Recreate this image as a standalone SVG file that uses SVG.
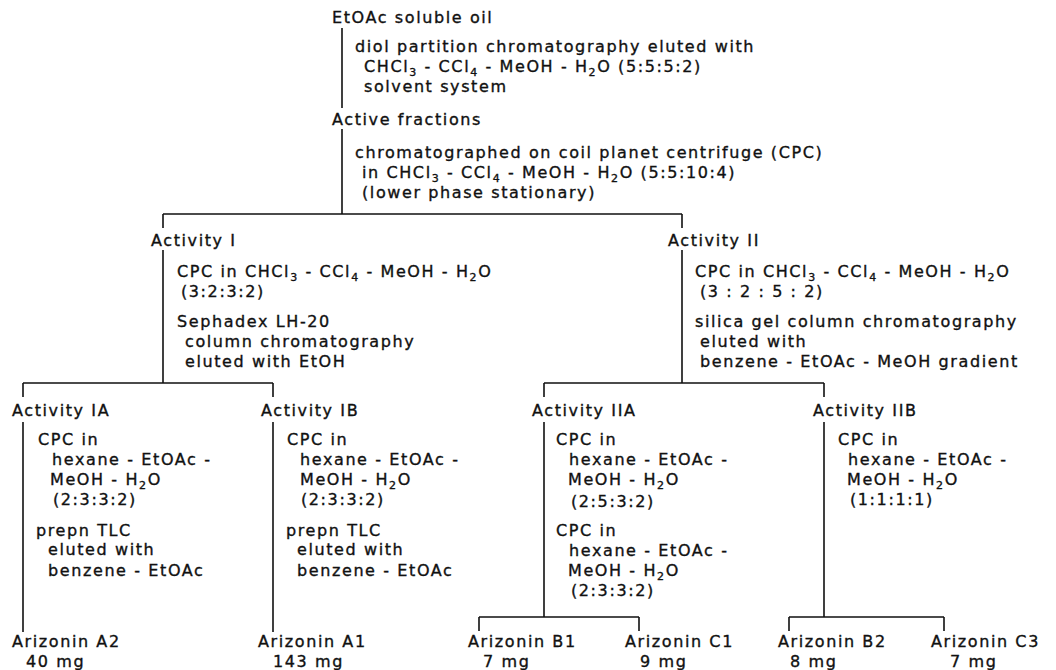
<svg xmlns="http://www.w3.org/2000/svg" width="1056" height="670" viewBox="0 0 1056 670">
<style>
text { font-family: "DejaVu Sans", "Liberation Sans", sans-serif; font-size: 16px; letter-spacing: 1.6px; fill: #111; stroke: #111; stroke-width: 0.35px; }
.sub { font-size: 11px; }
.c { fill: none; stroke: #111; stroke-width: 1.6; }
</style>
<rect width="1056" height="670" fill="#fff"/>
<g id="connectors" class="c">
<path d="M342 28 V108 M342 129 V214"/>
<path d="M163 214 H682 M163 214 V228 M682 214 V228"/>
<path d="M163 250 V383 M23 383 H273 M23 383 V397 M273 383 V397"/>
<path d="M682 250 V383 M544 383 H824 M544 383 V397 M824 383 V397"/>
<path d="M23 422 V632 M273 422 V632"/>
<path d="M544 422 V617 M479 617 H639 M479 617 V631 M639 617 V631"/>
<path d="M824 422 V617 M789 617 H944 M789 617 V631 M944 617 V631"/>
</g>
<g id="n-etoac"><text x="332" y="23">EtOAc soluble oil</text></g>
<g id="step-diol">
<text x="355" y="52">diol partition chromatography eluted with</text>
<text x="364" y="72">CHCl<tspan class="sub" dy="4">3</tspan><tspan dy="-4"> - CCl</tspan><tspan class="sub" dy="4">4</tspan><tspan dy="-4"> - MeOH - H</tspan><tspan class="sub" dy="4">2</tspan><tspan dy="-4">O (5:5:5:2)</tspan></text>
<text x="364" y="92">solvent system</text>
</g>
<g id="n-active"><text x="332" y="125">Active fractions</text></g>
<g id="step-cpc">
<text x="355" y="158">chromatographed on coil planet centrifuge (CPC)</text>
<text x="362" y="178">in CHCl<tspan class="sub" dy="4">3</tspan><tspan dy="-4"> - CCl</tspan><tspan class="sub" dy="4">4</tspan><tspan dy="-4"> - MeOH - H</tspan><tspan class="sub" dy="4">2</tspan><tspan dy="-4">O (5:5:10:4)</tspan></text>
<text x="362" y="198">(lower phase stationary)</text>
</g>
<g id="n-act1">
<text x="151" y="246">Activity I</text>
<text x="177" y="277">CPC in CHCl<tspan class="sub" dy="4">3</tspan><tspan dy="-4"> - CCl</tspan><tspan class="sub" dy="4">4</tspan><tspan dy="-4"> - MeOH - H</tspan><tspan class="sub" dy="4">2</tspan><tspan dy="-4">O</tspan></text>
<text x="181" y="297">(3:2:3:2)</text>
<text x="177" y="327">Sephadex LH-20</text>
<text x="185" y="347">column chromatography</text>
<text x="185" y="367">eluted with EtOH</text>
</g>
<g id="n-act2">
<text x="668" y="246">Activity II</text>
<text x="695" y="277">CPC in CHCl<tspan class="sub" dy="4">3</tspan><tspan dy="-4"> - CCl</tspan><tspan class="sub" dy="4">4</tspan><tspan dy="-4"> - MeOH - H</tspan><tspan class="sub" dy="4">2</tspan><tspan dy="-4">O</tspan></text>
<text x="700" y="297">(3 : 2 : 5 : 2)</text>
<text x="695" y="327">silica gel column chromatography</text>
<text x="700" y="347">eluted with</text>
<text x="700" y="367">benzene - EtOAc - MeOH gradient</text>
</g>
<g id="n-act1a">
<text x="12" y="416">Activity IA</text>
<text x="38" y="445">CPC in</text>
<text x="52" y="465">hexane - EtOAc -</text>
<text x="50" y="485">MeOH - H<tspan class="sub" dy="4">2</tspan><tspan dy="-4">O</tspan></text>
<text x="53" y="505">(2:3:3:2)</text>
<text x="36" y="536">prepn TLC</text>
<text x="48" y="555">eluted with</text>
<text x="48" y="576">benzene - EtOAc</text>
</g>
<g id="n-act1b">
<text x="261" y="416">Activity IB</text>
<text x="287" y="445">CPC in</text>
<text x="300" y="465">hexane - EtOAc -</text>
<text x="300" y="485">MeOH - H<tspan class="sub" dy="4">2</tspan><tspan dy="-4">O</tspan></text>
<text x="301" y="505">(2:3:3:2)</text>
<text x="286" y="536">prepn TLC</text>
<text x="297" y="555">eluted with</text>
<text x="297" y="576">benzene - EtOAc</text>
</g>
<g id="n-act2a">
<text x="532" y="416">Activity IIA</text>
<text x="556" y="445">CPC in</text>
<text x="569" y="465">hexane - EtOAc -</text>
<text x="568" y="485">MeOH - H<tspan class="sub" dy="4">2</tspan><tspan dy="-4">O</tspan></text>
<text x="571" y="507">(2:5:3:2)</text>
<text x="556" y="536">CPC in</text>
<text x="569" y="556">hexane - EtOAc -</text>
<text x="568" y="576">MeOH - H<tspan class="sub" dy="4">2</tspan><tspan dy="-4">O</tspan></text>
<text x="571" y="596">(2:3:3:2)</text>
</g>
<g id="n-act2b">
<text x="813" y="416">Activity IIB</text>
<text x="838" y="445">CPC in</text>
<text x="848" y="465">hexane - EtOAc -</text>
<text x="847" y="485">MeOH - H<tspan class="sub" dy="4">2</tspan><tspan dy="-4">O</tspan></text>
<text x="850" y="505">(1:1:1:1)</text>
</g>
<g id="n-a2"><text x="12" y="647">Arizonin A2</text><text x="26" y="667">40 mg</text></g>
<g id="n-a1"><text x="258" y="647">Arizonin A1</text><text x="273" y="667">143 mg</text></g>
<g id="n-b1"><text x="468" y="647">Arizonin B1</text><text x="483" y="667">7 mg</text></g>
<g id="n-c1"><text x="625" y="647">Arizonin C1</text><text x="640" y="667">9 mg</text></g>
<g id="n-b2"><text x="778" y="647">Arizonin B2</text><text x="790" y="667">8 mg</text></g>
<g id="n-c3"><text x="931" y="647">Arizonin C3</text><text x="950" y="667">7 mg</text></g>
</svg>
